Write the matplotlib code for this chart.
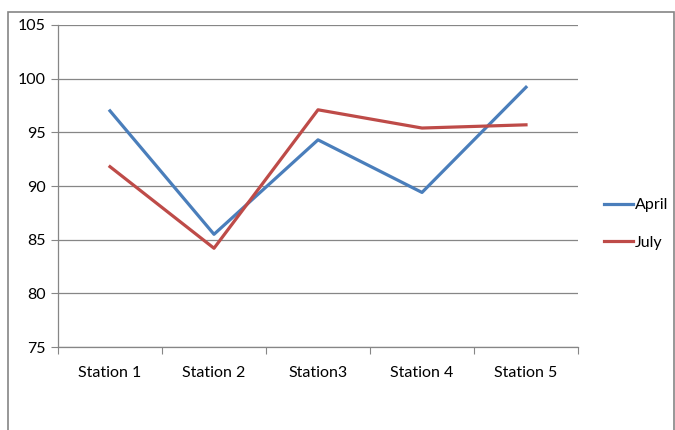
import matplotlib.pyplot as plt
from matplotlib.patches import Rectangle

stations = ['Station 1', 'Station 2', 'Station3', 'Station 4', 'Station 5']
april = [97.0, 85.5, 94.3, 89.4, 99.2]
july = [91.8, 84.2, 97.1, 95.4, 95.7]
yticks = [75, 80, 85, 90, 95, 100, 105]

plt.rcParams['font.family'] = ['Lato', 'DejaVu Sans']

fig = plt.figure(figsize=(6.75, 4.30), dpi=100)
ax = fig.add_axes([58 / 675, 1 - 347 / 430, 520 / 675, 322 / 430])

# outer chart border (bottom edge is cut off)
fig.patches.append(Rectangle((8 / 675, -0.05), 666 / 675, 1.05 - 12 / 430,
                             transform=fig.transFigure, fill=False,
                             edgecolor='#858585', linewidth=1.2))

x = [i + 0.5 for i in range(len(stations))]
ax.plot(x, april, color='#4A7EBB', linewidth=2.3, label='April')
ax.plot(x, july, color='#BE4B48', linewidth=2.3, label='July')

ax.set_xlim(0, len(stations))
ax.set_ylim(75, 105)
ax.set_yticks(yticks)
ax.set_yticklabels([str(v) for v in yticks], fontsize=11.5)
ax.set_xticks(range(len(stations) + 1))
ax.set_xticklabels([])
ax.set_xticks(x, minor=True)
ax.set_xticklabels(stations, minor=True, fontsize=11.5)
ax.tick_params(axis='x', which='minor', length=0, pad=14)
ax.tick_params(axis='x', which='major', length=5, color='#868686')
ax.tick_params(axis='y', length=5, color='#868686', pad=4)

ax.grid(axis='y', color='#868686', linewidth=0.9)
ax.set_axisbelow(True)
for s in ['top', 'right']:
    ax.spines[s].set_visible(False)
for s in ['left', 'bottom']:
    ax.spines[s].set_color('#868686')
    ax.spines[s].set_linewidth(0.9)

fig.legend(loc='center left', bbox_to_anchor=(598 / 675, 1 - 224 / 430),
           frameon=False, fontsize=11.5, handlelength=1.8, handletextpad=0.1,
           labelspacing=1.45, borderaxespad=0)

fig.savefig('out.png', dpi=100)
